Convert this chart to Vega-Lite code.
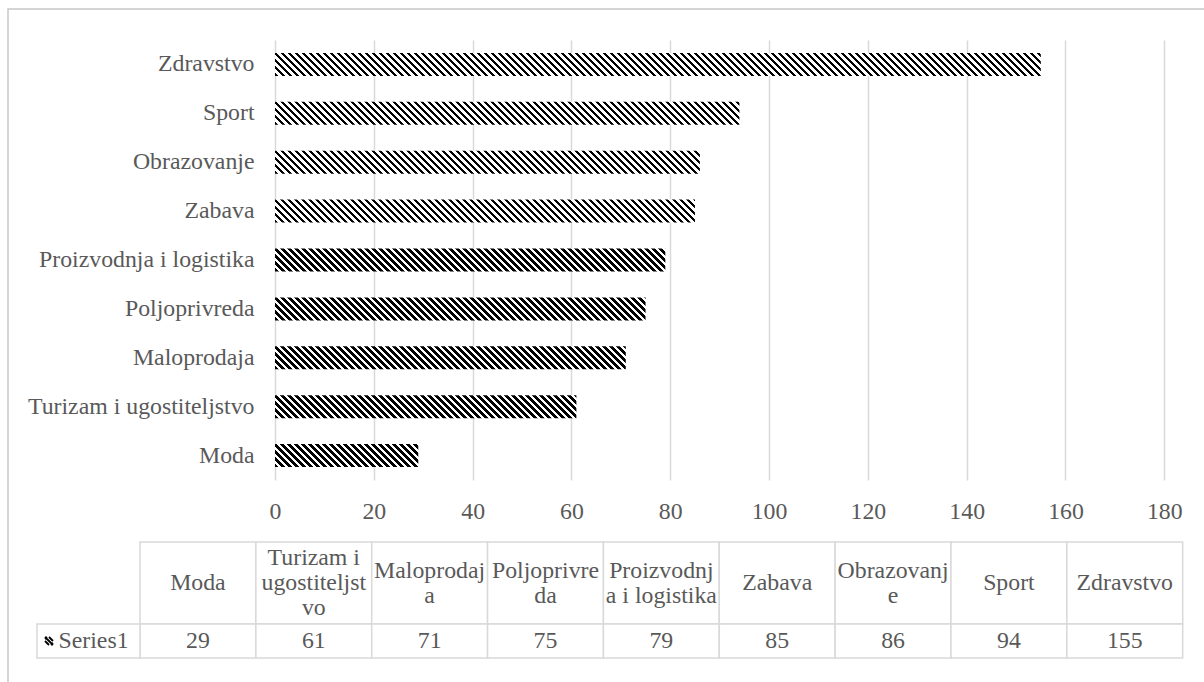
{
  "$schema": "https://vega.github.io/schema/vega-lite/v6.json",
  "width": 1204,
  "height": 680,
  "padding": {"left": 8, "top": 9, "right": -8, "bottom": -7},
  "autosize": {"type": "none"},
  "background": "white",
  "config": {"font": "Liberation Serif", "view": {"stroke": "#c8c8c8", "strokeWidth": 1.5}},
  "params": [
    {
      "name": "hatch",
      "value": [
        {"offset":0,"color":"#000"},
        {"offset":0.004,"color":"#000"},{"offset":0.004,"color":"#fff"},{"offset":0.008,"color":"#fff"},{"offset":0.008,"color":"#000"},{"offset":0.012,"color":"#000"},{"offset":0.012,"color":"#fff"},{"offset":0.016,"color":"#fff"},{"offset":0.016,"color":"#000"},{"offset":0.02,"color":"#000"},{"offset":0.02,"color":"#fff"},{"offset":0.024,"color":"#fff"},{"offset":0.024,"color":"#000"},{"offset":0.028,"color":"#000"},{"offset":0.028,"color":"#fff"},{"offset":0.032,"color":"#fff"},{"offset":0.032,"color":"#000"},{"offset":0.036,"color":"#000"},{"offset":0.036,"color":"#fff"},{"offset":0.04,"color":"#fff"},{"offset":0.04,"color":"#000"},
        {"offset":0.044,"color":"#000"},{"offset":0.044,"color":"#fff"},{"offset":0.048,"color":"#fff"},{"offset":0.048,"color":"#000"},{"offset":0.052,"color":"#000"},{"offset":0.052,"color":"#fff"},{"offset":0.056,"color":"#fff"},{"offset":0.056,"color":"#000"},{"offset":0.06,"color":"#000"},{"offset":0.06,"color":"#fff"},{"offset":0.064,"color":"#fff"},{"offset":0.064,"color":"#000"},{"offset":0.068,"color":"#000"},{"offset":0.068,"color":"#fff"},{"offset":0.072,"color":"#fff"},{"offset":0.072,"color":"#000"},{"offset":0.076,"color":"#000"},{"offset":0.076,"color":"#fff"},{"offset":0.08,"color":"#fff"},{"offset":0.08,"color":"#000"},
        {"offset":0.084,"color":"#000"},{"offset":0.084,"color":"#fff"},{"offset":0.088,"color":"#fff"},{"offset":0.088,"color":"#000"},{"offset":0.092,"color":"#000"},{"offset":0.092,"color":"#fff"},{"offset":0.096,"color":"#fff"},{"offset":0.096,"color":"#000"},{"offset":0.1,"color":"#000"},{"offset":0.1,"color":"#fff"},{"offset":0.104,"color":"#fff"},{"offset":0.104,"color":"#000"},{"offset":0.108,"color":"#000"},{"offset":0.108,"color":"#fff"},{"offset":0.112,"color":"#fff"},{"offset":0.112,"color":"#000"},{"offset":0.116,"color":"#000"},{"offset":0.116,"color":"#fff"},{"offset":0.12,"color":"#fff"},{"offset":0.12,"color":"#000"},
        {"offset":0.124,"color":"#000"},{"offset":0.124,"color":"#fff"},{"offset":0.128,"color":"#fff"},{"offset":0.128,"color":"#000"},{"offset":0.132,"color":"#000"},{"offset":0.132,"color":"#fff"},{"offset":0.136,"color":"#fff"},{"offset":0.136,"color":"#000"},{"offset":0.14,"color":"#000"},{"offset":0.14,"color":"#fff"},{"offset":0.144,"color":"#fff"},{"offset":0.144,"color":"#000"},{"offset":0.148,"color":"#000"},{"offset":0.148,"color":"#fff"},{"offset":0.152,"color":"#fff"},{"offset":0.152,"color":"#000"},{"offset":0.156,"color":"#000"},{"offset":0.156,"color":"#fff"},{"offset":0.16,"color":"#fff"},{"offset":0.16,"color":"#000"},
        {"offset":0.164,"color":"#000"},{"offset":0.164,"color":"#fff"},{"offset":0.168,"color":"#fff"},{"offset":0.168,"color":"#000"},{"offset":0.172,"color":"#000"},{"offset":0.172,"color":"#fff"},{"offset":0.176,"color":"#fff"},{"offset":0.176,"color":"#000"},{"offset":0.18,"color":"#000"},{"offset":0.18,"color":"#fff"},{"offset":0.184,"color":"#fff"},{"offset":0.184,"color":"#000"},{"offset":0.188,"color":"#000"},{"offset":0.188,"color":"#fff"},{"offset":0.192,"color":"#fff"},{"offset":0.192,"color":"#000"},{"offset":0.196,"color":"#000"},{"offset":0.196,"color":"#fff"},{"offset":0.2,"color":"#fff"},{"offset":0.2,"color":"#000"},
        {"offset":0.204,"color":"#000"},{"offset":0.204,"color":"#fff"},{"offset":0.208,"color":"#fff"},{"offset":0.208,"color":"#000"},{"offset":0.212,"color":"#000"},{"offset":0.212,"color":"#fff"},{"offset":0.216,"color":"#fff"},{"offset":0.216,"color":"#000"},{"offset":0.22,"color":"#000"},{"offset":0.22,"color":"#fff"},{"offset":0.224,"color":"#fff"},{"offset":0.224,"color":"#000"},{"offset":0.228,"color":"#000"},{"offset":0.228,"color":"#fff"},{"offset":0.232,"color":"#fff"},{"offset":0.232,"color":"#000"},{"offset":0.236,"color":"#000"},{"offset":0.236,"color":"#fff"},{"offset":0.24,"color":"#fff"},{"offset":0.24,"color":"#000"},
        {"offset":0.244,"color":"#000"},{"offset":0.244,"color":"#fff"},{"offset":0.248,"color":"#fff"},{"offset":0.248,"color":"#000"},{"offset":0.252,"color":"#000"},{"offset":0.252,"color":"#fff"},{"offset":0.256,"color":"#fff"},{"offset":0.256,"color":"#000"},{"offset":0.26,"color":"#000"},{"offset":0.26,"color":"#fff"},{"offset":0.264,"color":"#fff"},{"offset":0.264,"color":"#000"},{"offset":0.268,"color":"#000"},{"offset":0.268,"color":"#fff"},{"offset":0.272,"color":"#fff"},{"offset":0.272,"color":"#000"},{"offset":0.276,"color":"#000"},{"offset":0.276,"color":"#fff"},{"offset":0.28,"color":"#fff"},{"offset":0.28,"color":"#000"},
        {"offset":0.284,"color":"#000"},{"offset":0.284,"color":"#fff"},{"offset":0.288,"color":"#fff"},{"offset":0.288,"color":"#000"},{"offset":0.292,"color":"#000"},{"offset":0.292,"color":"#fff"},{"offset":0.296,"color":"#fff"},{"offset":0.296,"color":"#000"},{"offset":0.3,"color":"#000"},{"offset":0.3,"color":"#fff"},{"offset":0.304,"color":"#fff"},{"offset":0.304,"color":"#000"},{"offset":0.308,"color":"#000"},{"offset":0.308,"color":"#fff"},{"offset":0.312,"color":"#fff"},{"offset":0.312,"color":"#000"},{"offset":0.316,"color":"#000"},{"offset":0.316,"color":"#fff"},{"offset":0.32,"color":"#fff"},{"offset":0.32,"color":"#000"},
        {"offset":0.324,"color":"#000"},{"offset":0.324,"color":"#fff"},{"offset":0.328,"color":"#fff"},{"offset":0.328,"color":"#000"},{"offset":0.332,"color":"#000"},{"offset":0.332,"color":"#fff"},{"offset":0.336,"color":"#fff"},{"offset":0.336,"color":"#000"},{"offset":0.34,"color":"#000"},{"offset":0.34,"color":"#fff"},{"offset":0.344,"color":"#fff"},{"offset":0.344,"color":"#000"},{"offset":0.348,"color":"#000"},{"offset":0.348,"color":"#fff"},{"offset":0.352,"color":"#fff"},{"offset":0.352,"color":"#000"},{"offset":0.356,"color":"#000"},{"offset":0.356,"color":"#fff"},{"offset":0.36,"color":"#fff"},{"offset":0.36,"color":"#000"},
        {"offset":0.364,"color":"#000"},{"offset":0.364,"color":"#fff"},{"offset":0.368,"color":"#fff"},{"offset":0.368,"color":"#000"},{"offset":0.372,"color":"#000"},{"offset":0.372,"color":"#fff"},{"offset":0.376,"color":"#fff"},{"offset":0.376,"color":"#000"},{"offset":0.38,"color":"#000"},{"offset":0.38,"color":"#fff"},{"offset":0.384,"color":"#fff"},{"offset":0.384,"color":"#000"},{"offset":0.388,"color":"#000"},{"offset":0.388,"color":"#fff"},{"offset":0.392,"color":"#fff"},{"offset":0.392,"color":"#000"},{"offset":0.396,"color":"#000"},{"offset":0.396,"color":"#fff"},{"offset":0.4,"color":"#fff"},{"offset":0.4,"color":"#000"},
        {"offset":0.404,"color":"#000"},{"offset":0.404,"color":"#fff"},{"offset":0.408,"color":"#fff"},{"offset":0.408,"color":"#000"},{"offset":0.412,"color":"#000"},{"offset":0.412,"color":"#fff"},{"offset":0.416,"color":"#fff"},{"offset":0.416,"color":"#000"},{"offset":0.42,"color":"#000"},{"offset":0.42,"color":"#fff"},{"offset":0.424,"color":"#fff"},{"offset":0.424,"color":"#000"},{"offset":0.428,"color":"#000"},{"offset":0.428,"color":"#fff"},{"offset":0.432,"color":"#fff"},{"offset":0.432,"color":"#000"},{"offset":0.436,"color":"#000"},{"offset":0.436,"color":"#fff"},{"offset":0.44,"color":"#fff"},{"offset":0.44,"color":"#000"},
        {"offset":0.444,"color":"#000"},{"offset":0.444,"color":"#fff"},{"offset":0.448,"color":"#fff"},{"offset":0.448,"color":"#000"},{"offset":0.452,"color":"#000"},{"offset":0.452,"color":"#fff"},{"offset":0.456,"color":"#fff"},{"offset":0.456,"color":"#000"},{"offset":0.46,"color":"#000"},{"offset":0.46,"color":"#fff"},{"offset":0.464,"color":"#fff"},{"offset":0.464,"color":"#000"},{"offset":0.468,"color":"#000"},{"offset":0.468,"color":"#fff"},{"offset":0.472,"color":"#fff"},{"offset":0.472,"color":"#000"},{"offset":0.476,"color":"#000"},{"offset":0.476,"color":"#fff"},{"offset":0.48,"color":"#fff"},{"offset":0.48,"color":"#000"},
        {"offset":0.484,"color":"#000"},{"offset":0.484,"color":"#fff"},{"offset":0.488,"color":"#fff"},{"offset":0.488,"color":"#000"},{"offset":0.492,"color":"#000"},{"offset":0.492,"color":"#fff"},{"offset":0.496,"color":"#fff"},{"offset":0.496,"color":"#000"},{"offset":0.5,"color":"#000"},{"offset":0.5,"color":"#fff"},{"offset":0.504,"color":"#fff"},{"offset":0.504,"color":"#000"},{"offset":0.508,"color":"#000"},{"offset":0.508,"color":"#fff"},{"offset":0.512,"color":"#fff"},{"offset":0.512,"color":"#000"},{"offset":0.516,"color":"#000"},{"offset":0.516,"color":"#fff"},{"offset":0.52,"color":"#fff"},{"offset":0.52,"color":"#000"},
        {"offset":0.524,"color":"#000"},{"offset":0.524,"color":"#fff"},{"offset":0.528,"color":"#fff"},{"offset":0.528,"color":"#000"},{"offset":0.532,"color":"#000"},{"offset":0.532,"color":"#fff"},{"offset":0.536,"color":"#fff"},{"offset":0.536,"color":"#000"},{"offset":0.54,"color":"#000"},{"offset":0.54,"color":"#fff"},{"offset":0.544,"color":"#fff"},{"offset":0.544,"color":"#000"},{"offset":0.548,"color":"#000"},{"offset":0.548,"color":"#fff"},{"offset":0.552,"color":"#fff"},{"offset":0.552,"color":"#000"},{"offset":0.556,"color":"#000"},{"offset":0.556,"color":"#fff"},{"offset":0.56,"color":"#fff"},{"offset":0.56,"color":"#000"},
        {"offset":0.564,"color":"#000"},{"offset":0.564,"color":"#fff"},{"offset":0.568,"color":"#fff"},{"offset":0.568,"color":"#000"},{"offset":0.572,"color":"#000"},{"offset":0.572,"color":"#fff"},{"offset":0.576,"color":"#fff"},{"offset":0.576,"color":"#000"},{"offset":0.58,"color":"#000"},{"offset":0.58,"color":"#fff"},{"offset":0.584,"color":"#fff"},{"offset":0.584,"color":"#000"},{"offset":0.588,"color":"#000"},{"offset":0.588,"color":"#fff"},{"offset":0.592,"color":"#fff"},{"offset":0.592,"color":"#000"},{"offset":0.596,"color":"#000"},{"offset":0.596,"color":"#fff"},{"offset":0.6,"color":"#fff"},{"offset":0.6,"color":"#000"},
        {"offset":0.604,"color":"#000"},{"offset":0.604,"color":"#fff"},{"offset":0.608,"color":"#fff"},{"offset":0.608,"color":"#000"},{"offset":0.612,"color":"#000"},{"offset":0.612,"color":"#fff"},{"offset":0.616,"color":"#fff"},{"offset":0.616,"color":"#000"},{"offset":0.62,"color":"#000"},{"offset":0.62,"color":"#fff"},{"offset":0.624,"color":"#fff"},{"offset":0.624,"color":"#000"},{"offset":0.628,"color":"#000"},{"offset":0.628,"color":"#fff"},{"offset":0.632,"color":"#fff"},{"offset":0.632,"color":"#000"},{"offset":0.636,"color":"#000"},{"offset":0.636,"color":"#fff"},{"offset":0.64,"color":"#fff"},{"offset":0.64,"color":"#000"},
        {"offset":0.644,"color":"#000"},{"offset":0.644,"color":"#fff"},{"offset":0.648,"color":"#fff"},{"offset":0.648,"color":"#000"},{"offset":0.652,"color":"#000"},{"offset":0.652,"color":"#fff"},{"offset":0.656,"color":"#fff"},{"offset":0.656,"color":"#000"},{"offset":0.66,"color":"#000"},{"offset":0.66,"color":"#fff"},{"offset":0.664,"color":"#fff"},{"offset":0.664,"color":"#000"},{"offset":0.668,"color":"#000"},{"offset":0.668,"color":"#fff"},{"offset":0.672,"color":"#fff"},{"offset":0.672,"color":"#000"},{"offset":0.676,"color":"#000"},{"offset":0.676,"color":"#fff"},{"offset":0.68,"color":"#fff"},{"offset":0.68,"color":"#000"},
        {"offset":0.684,"color":"#000"},{"offset":0.684,"color":"#fff"},{"offset":0.688,"color":"#fff"},{"offset":0.688,"color":"#000"},{"offset":0.692,"color":"#000"},{"offset":0.692,"color":"#fff"},{"offset":0.696,"color":"#fff"},{"offset":0.696,"color":"#000"},{"offset":0.7,"color":"#000"},{"offset":0.7,"color":"#fff"},{"offset":0.704,"color":"#fff"},{"offset":0.704,"color":"#000"},{"offset":0.708,"color":"#000"},{"offset":0.708,"color":"#fff"},{"offset":0.712,"color":"#fff"},{"offset":0.712,"color":"#000"},{"offset":0.716,"color":"#000"},{"offset":0.716,"color":"#fff"},{"offset":0.72,"color":"#fff"},{"offset":0.72,"color":"#000"},
        {"offset":0.724,"color":"#000"},{"offset":0.724,"color":"#fff"},{"offset":0.728,"color":"#fff"},{"offset":0.728,"color":"#000"},{"offset":0.732,"color":"#000"},{"offset":0.732,"color":"#fff"},{"offset":0.736,"color":"#fff"},{"offset":0.736,"color":"#000"},{"offset":0.74,"color":"#000"},{"offset":0.74,"color":"#fff"},{"offset":0.744,"color":"#fff"},{"offset":0.744,"color":"#000"},{"offset":0.748,"color":"#000"},{"offset":0.748,"color":"#fff"},{"offset":0.752,"color":"#fff"},{"offset":0.752,"color":"#000"},{"offset":0.756,"color":"#000"},{"offset":0.756,"color":"#fff"},{"offset":0.76,"color":"#fff"},{"offset":0.76,"color":"#000"},
        {"offset":0.764,"color":"#000"},{"offset":0.764,"color":"#fff"},{"offset":0.768,"color":"#fff"},{"offset":0.768,"color":"#000"},{"offset":0.772,"color":"#000"},{"offset":0.772,"color":"#fff"},{"offset":0.776,"color":"#fff"},{"offset":0.776,"color":"#000"},{"offset":0.78,"color":"#000"},{"offset":0.78,"color":"#fff"},{"offset":0.784,"color":"#fff"},{"offset":0.784,"color":"#000"},{"offset":0.788,"color":"#000"},{"offset":0.788,"color":"#fff"},{"offset":0.792,"color":"#fff"},{"offset":0.792,"color":"#000"},{"offset":0.796,"color":"#000"},{"offset":0.796,"color":"#fff"},{"offset":0.8,"color":"#fff"},{"offset":0.8,"color":"#000"},
        {"offset":0.804,"color":"#000"},{"offset":0.804,"color":"#fff"},{"offset":0.808,"color":"#fff"},{"offset":0.808,"color":"#000"},{"offset":0.812,"color":"#000"},{"offset":0.812,"color":"#fff"},{"offset":0.816,"color":"#fff"},{"offset":0.816,"color":"#000"},{"offset":0.82,"color":"#000"},{"offset":0.82,"color":"#fff"},{"offset":0.824,"color":"#fff"},{"offset":0.824,"color":"#000"},{"offset":0.828,"color":"#000"},{"offset":0.828,"color":"#fff"},{"offset":0.832,"color":"#fff"},{"offset":0.832,"color":"#000"},{"offset":0.836,"color":"#000"},{"offset":0.836,"color":"#fff"},{"offset":0.84,"color":"#fff"},{"offset":0.84,"color":"#000"},
        {"offset":0.844,"color":"#000"},{"offset":0.844,"color":"#fff"},{"offset":0.848,"color":"#fff"},{"offset":0.848,"color":"#000"},{"offset":0.852,"color":"#000"},{"offset":0.852,"color":"#fff"},{"offset":0.856,"color":"#fff"},{"offset":0.856,"color":"#000"},{"offset":0.86,"color":"#000"},{"offset":0.86,"color":"#fff"},{"offset":0.864,"color":"#fff"},{"offset":0.864,"color":"#000"},{"offset":0.868,"color":"#000"},{"offset":0.868,"color":"#fff"},{"offset":0.872,"color":"#fff"},{"offset":0.872,"color":"#000"},{"offset":0.876,"color":"#000"},{"offset":0.876,"color":"#fff"},{"offset":0.88,"color":"#fff"},{"offset":0.88,"color":"#000"},
        {"offset":0.884,"color":"#000"},{"offset":0.884,"color":"#fff"},{"offset":0.888,"color":"#fff"},{"offset":0.888,"color":"#000"},{"offset":0.892,"color":"#000"},{"offset":0.892,"color":"#fff"},{"offset":0.896,"color":"#fff"},{"offset":0.896,"color":"#000"},{"offset":0.9,"color":"#000"},{"offset":0.9,"color":"#fff"},{"offset":0.904,"color":"#fff"},{"offset":0.904,"color":"#000"},
        {"offset":1,"color":"#000"}
      ]
    }
  ],
  "datasets": {
    "d": [
      {"cat": "Moda", "value": 29, "label": "Moda"},
      {"cat": "Turizam i ugostiteljstvo", "value": 61, "label": "Turizam i\nugostiteljst\nvo"},
      {"cat": "Maloprodaja", "value": 71, "label": "Maloprodaj\na"},
      {"cat": "Poljoprivreda", "value": 75, "label": "Poljoprivre\nda"},
      {"cat": "Proizvodnja i logistika", "value": 79, "label": "Proizvodnj\na i logistika"},
      {"cat": "Zabava", "value": 85, "label": "Zabava"},
      {"cat": "Obrazovanje", "value": 86, "label": "Obrazovanj\ne"},
      {"cat": "Sport", "value": 94, "label": "Sport"},
      {"cat": "Zdravstvo", "value": 155, "label": "Zdravstvo"}
    ],
    "legend": [{"series": "Series1"}]
  },
  "layer": [
    {
      "data": {"name": "d"},
      "mark": {"type": "bar", "opacity": 0},
      "encoding": {
        "y": {"field": "cat", "type": "nominal", "scale": {"range": [209, 649]}, "axis": null},
        "x": {
          "field": "value",
          "type": "quantitative",
          "scale": {"domain": [0, 180], "range": [267, 1156.3], "nice": false, "zero": false},
          "axis": {
            "values": [0, 20, 40, 60, 80, 100, 120, 140, 160, 180],
            "grid": true,
            "gridColor": "#d9d9d9",
            "gridWidth": 1.5,
            "domain": false,
            "ticks": false,
            "labels": false,
            "title": null
          }
        }
      }
    },
    {
      "data": {"name": "d"},
      "mark": {
        "type": "bar",
        "fill": {"expr": "{gradient: 'linear', x1: 0, y1: 1, x2: 875 * datum.value * 4.9406 / (pow(datum.value * 4.9406, 2) + 528), y2: 1 - 875 * 22.98 / (pow(datum.value * 4.9406, 2) + 528), stops: hatch}"}
      },
      "encoding": {
        "y": {
          "field": "cat",
          "type": "nominal",
          "sort": {"field": "value", "order": "descending"},
          "scale": {"range": [31, 471], "paddingInner": 0.53, "paddingOuter": 0.265},
          "axis": {
            "orient": "left",
            "offset": -266,
            "labelPadding": 20,
            "ticks": false,
            "tickSize": 0,
            "domain": false,
            "grid": false,
            "title": null,
            "labelFont": "Liberation Serif",
            "labelFontSize": 23.8,
            "labelColor": "#595959",
            "labelLimit": 400
          }
        },
        "x": {
          "field": "value",
          "type": "quantitative",
          "scale": {"domain": [0, 180], "range": [267, 1156.3], "nice": false, "zero": false},
          "axis": {
            "orient": "bottom",
            "offset": -209,
            "values": [0, 20, 40, 60, 80, 100, 120, 140, 160, 180],
            "grid": false,
            "domain": false,
            "ticks": false,
            "tickSize": 0,
            "labelPadding": 19,
            "labelFont": "Liberation Serif",
            "labelFontSize": 23.8,
            "labelColor": "#595959",
            "labelFlush": false,
            "labelOverlap": false,
            "title": null
          }
        }
      }
    },
    {
      "layer": [
        {
          "data": {"name": "d"},
          "transform": [{"fold": ["label"], "as": ["row", "content"]}],
          "encoding": {
            "x": {
              "field": "cat",
              "type": "nominal",
              "sort": {"field": "value", "order": "ascending"},
              "scale": {"range": [132, 1174.7], "paddingInner": 0, "paddingOuter": 0},
              "axis": null
            },
            "y": {
              "field": "row",
              "type": "nominal",
              "scale": {"range": [533, 615], "paddingInner": 0, "paddingOuter": 0},
              "axis": null
            }
          },
          "layer": [
            {"mark": {"type": "rect", "fill": "white", "stroke": "#d9d9d9", "strokeWidth": 1.5}},
            {
              "mark": {
                "type": "text",
                "font": "Liberation Serif",
                "fontSize": 23.8,
                "color": "#595959",
                "lineBreak": "\n",
                "lineHeight": 25,
                "baseline": "middle",
                "align": "center",
                "dy": {"expr": "-12.5 * (length(split(datum.content, '\\n')) - 1)"}
              },
              "encoding": {"text": {"field": "content", "type": "nominal"}}
            }
          ]
        },
        {
          "data": {"name": "d"},
          "transform": [{"fold": ["value"], "as": ["row", "content"]}],
          "encoding": {
            "x": {
              "field": "cat",
              "type": "nominal",
              "sort": {"field": "value", "order": "ascending"},
              "scale": {"range": [132, 1174.7], "paddingInner": 0, "paddingOuter": 0},
              "axis": null
            },
            "y": {
              "field": "row",
              "type": "nominal",
              "scale": {"range": [615, 649], "paddingInner": 0, "paddingOuter": 0},
              "axis": null
            }
          },
          "layer": [
            {"mark": {"type": "rect", "fill": "white", "stroke": "#d9d9d9", "strokeWidth": 1.5}},
            {
              "mark": {"type": "text", "font": "Liberation Serif", "fontSize": 23.8, "color": "#595959", "baseline": "middle", "align": "center"},
              "encoding": {"text": {"field": "content", "type": "quantitative"}}
            }
          ]
        },
        {
          "data": {"name": "legend"},
          "transform": [{"fold": ["series"], "as": ["row", "content"]}],
          "encoding": {
            "x": {
              "field": "content",
              "type": "nominal",
              "scale": {"range": [29, 132], "paddingInner": 0, "paddingOuter": 0},
              "axis": null
            },
            "y": {
              "field": "row",
              "type": "nominal",
              "scale": {"range": [615, 649], "paddingInner": 0, "paddingOuter": 0},
              "axis": null
            }
          },
          "layer": [
            {"mark": {"type": "rect", "fill": "white", "stroke": "#d9d9d9", "strokeWidth": 1.5}},
            {
              "mark": {
                "type": "point",
                "shape": "M-1,-1L1,1M-1,0L0,1M0,-1L1,0M-1,-0.5L-0.5,-1M0.5,1L1,0.5",
                "size": 64,
                "filled": false,
                "stroke": "black",
                "strokeWidth": 1.8,
                "opacity": 1,
                "xOffset": -39.5
              }
            },
            {
              "mark": {"type": "text", "font": "Liberation Serif", "fontSize": 23.8, "color": "#595959", "baseline": "middle", "align": "left", "dx": -30},
              "encoding": {"text": {"field": "content", "type": "nominal"}}
            }
          ]
        }
      ],
      "resolve": {"scale": {"x": "independent", "y": "independent"}}
    }
  ],
  "resolve": {"scale": {"x": "independent", "y": "independent"}, "axis": {"x": "independent", "y": "independent"}}
}
